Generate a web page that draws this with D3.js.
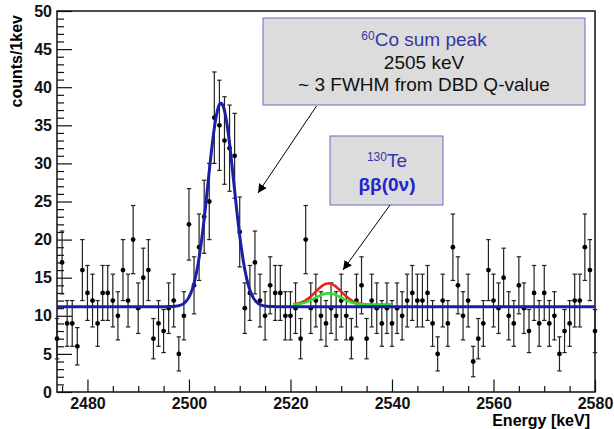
<!DOCTYPE html>
<html>
<head>
<meta charset="utf-8">
<script src="https://cdn.jsdelivr.net/npm/d3@7"></script>
<style>
  body { margin: 0; background: #fff; }
  text { font-family: "Liberation Sans", Arial, sans-serif; }
  .axis text { font-weight: bold; font-size: 16px; }
</style>
</head>
<body>
<div id="chart"></div>
<script>
// spectrum around the 60Co sum peak, 1 keV bins starting at 2474 keV
var binStart = 2474;
var counts = [
  7, 17, 9, 9, 6, 16, 13, 12, 9, 13,
  13, 12, 10, 16, 12, 20, 11, 15, 16, 7,
  9, 8, 11, 12, 5, 10, 22, 14, 19, 23,
  25, 36, 35, 33, 32, 31, 21, 11, 13, 17,
  12, 10, 14, 13, 13, 10, 10, 11, 7, 20,
  11, 12, 10, 9, 11, 10, 12, 10, 7, 12,
  14, 7, 12, 11, 9, 11, 9, 11, 10, 12,
  13, 12, 12, 13, 9, 5, 12, 9, 19, 14,
  10, 12, 4, 7, 9, 16, 12, 11, 15, 10,
  9, 14, 11, 8, 13, 9, 13, 9, 10, 5,
  8, 9, 12, 12, 19, 16, 8
];

// fit: flat background + gaussian peak
var fitBackground = 11.2;
var fitPeak = {mean: 2506.3, amp: 26.7, sigma: 2.55};
// 0nbb hypotheses at Q-value
var dbdRange = [2520.5, 2540];
var dbdCurves = [
  {name: "red", amp: 2.8, color: "#e8231e"},
  {name: "green", amp: 1.5, color: "#2ee02a"}
];
var dbdMean = 2527.5;

var xTicks = [2480, 2500, 2520, 2540, 2560, 2580];
var yTicks = [0, 5, 10, 15, 20, 25, 30, 35, 40, 45, 50];

var width = 614, height = 429;

var svg = d3.select("#chart").append("svg")
  .attr("width", width).attr("height", height);

var x = d3.scaleLinear().domain([2474, 2580]).range([57, 595]);
var y = d3.scaleLinear().domain([0, 50]).range([392, 11]);

// axes
svg.append("g").attr("class", "axis").attr("transform", "translate(0,392)")
  .call(d3.axisBottom(x).tickValues(xTicks).tickFormat(d3.format("d"))
    .tickSize(-12.5).tickSizeOuter(0).tickPadding(6));
svg.append("g").attr("transform", "translate(0,392)")
  .call(d3.axisBottom(x).tickValues(d3.range(2475, 2580, 5).filter(function(d){ return d % 20 != 0; }))
    .tickFormat("").tickSize(-6).tickSizeOuter(0));
svg.append("g").attr("class", "axis").attr("transform", "translate(57,0)")
  .call(d3.axisLeft(y).tickValues(yTicks).tickSize(-15).tickSizeOuter(0).tickPadding(5));
svg.append("g").attr("transform", "translate(57,0)")
  .call(d3.axisLeft(y).tickValues(d3.range(0, 50, 1).filter(function(d){ return d % 5 != 0; }))
    .tickFormat("").tickSize(-7).tickSizeOuter(0));

svg.selectAll(".domain").remove();
svg.selectAll(".tick line").attr("stroke", "#111").attr("stroke-width", 1.2);
svg.selectAll(".axis")
  .attr("font-family", "'Liberation Sans', Arial, sans-serif")
  .attr("font-size", 16).attr("font-weight", "bold");
svg.selectAll(".tick text").attr("fill", "#111");

// frame
svg.append("rect")
  .attr("x", 57).attr("y", 11)
  .attr("width", 595 - 57).attr("height", 392 - 11)
  .attr("fill", "none").attr("stroke", "#111").attr("stroke-width", 1.5);

// axis titles
svg.append("text")
  .attr("transform", "translate(22,15) rotate(-90)")
  .attr("text-anchor", "end")
  .style("font-size", "16px").style("font-weight", "bold")
  .text("counts/1kev");
svg.append("text")
  .attr("x", 590).attr("y", 426)
  .attr("text-anchor", "end")
  .style("font-size", "16px").style("font-weight", "bold")
  .text("Energy [keV]");

// data points with sqrt(n) errors
var pts = counts.map(function(c, i) { return {e: binStart + i, c: c}; });
var g = svg.append("g");
g.selectAll("line.err").data(pts).enter().append("line")
  .attr("class", "err")
  .attr("x1", function(d) { return x(d.e); })
  .attr("x2", function(d) { return x(d.e); })
  .attr("y1", function(d) { return y(d.c - Math.sqrt(d.c)); })
  .attr("y2", function(d) { return y(d.c + Math.sqrt(d.c)); })
  .attr("stroke", "#222").attr("stroke-width", 1.2);
[1, -1].forEach(function(s) {
  g.selectAll("line.cap" + s).data(pts).enter().append("line")
    .attr("x1", function(d) { return x(d.e) - 2.2; })
    .attr("x2", function(d) { return x(d.e) + 2.2; })
    .attr("y1", function(d) { return y(d.c + s * Math.sqrt(d.c)); })
    .attr("y2", function(d) { return y(d.c + s * Math.sqrt(d.c)); })
    .attr("stroke", "#222").attr("stroke-width", 1.2);
});
g.selectAll("circle").data(pts).enter().append("circle")
  .attr("cx", function(d) { return x(d.e); })
  .attr("cy", function(d) { return y(d.c); })
  .attr("r", 2.4).attr("fill", "#000");

// curves
function gauss(e, mean, amp, sigma) {
  return amp * Math.exp(-(e - mean) * (e - mean) / (2 * sigma * sigma));
}
var line = d3.line().x(function(d) { return x(d[0]); }).y(function(d) { return y(d[1]); });

dbdCurves.forEach(function(cv) {
  var samples = d3.range(dbdRange[0], dbdRange[1] + 0.01, 0.1).map(function(e) {
    return [e, fitBackground + 0.25 + gauss(e, dbdMean, cv.amp, fitPeak.sigma)];
  });
  svg.append("path").datum(samples).attr("d", line)
    .attr("fill", "none").attr("stroke", cv.color).attr("stroke-width", 2.6);
});

var fitSamples = d3.range(2474, 2580.01, 0.1).map(function(e) {
  return [e, fitBackground + gauss(e, fitPeak.mean, fitPeak.amp, fitPeak.sigma)];
});
svg.append("path").datum(fitSamples).attr("d", line)
  .attr("fill", "none").attr("stroke", "#1a1fa8").attr("stroke-width", 3);

// annotations
var defs = svg.append("defs");
defs.append("marker").attr("id", "arr")
  .attr("viewBox", "0 0 10 10").attr("refX", 10).attr("refY", 5)
  .attr("markerWidth", 9).attr("markerHeight", 9)
  .attr("markerUnits", "userSpaceOnUse")
  .attr("orient", "auto")
  .append("path").attr("d", "M0,0 L10,5 L0,10 z").attr("fill", "#000");

svg.append("rect").attr("x", 263).attr("y", 18).attr("width", 322).attr("height", 87)
  .attr("fill", "#dcdcdc").attr("stroke", "#6b6bc8").attr("stroke-width", 1);
var t1 = svg.append("text").attr("x", 424).attr("y", 46).attr("text-anchor", "middle")
  .style("font-size", "19px").attr("fill", "#3535a8");
t1.append("tspan").attr("dy", "-6").style("font-size", "12px").text("60");
t1.append("tspan").attr("dy", "6").text("Co sum peak");
svg.append("text").attr("x", 424).attr("y", 68.5).attr("text-anchor", "middle")
  .style("font-size", "19px").attr("fill", "#111").text("2505 keV");
svg.append("text").attr("x", 424).attr("y", 91).attr("text-anchor", "middle")
  .style("font-size", "19px").attr("fill", "#111").text("~ 3 FWHM from DBD Q-value");

svg.append("line").attr("x1", 316.5).attr("y1", 106).attr("x2", 258).attr("y2", 193)
  .attr("stroke", "#000").attr("stroke-width", 1).attr("marker-end", "url(#arr)");

svg.append("rect").attr("x", 330).attr("y", 136).attr("width", 113).attr("height", 69)
  .attr("fill", "#dcdcdc").attr("stroke", "#6b6bc8").attr("stroke-width", 1);
var t2 = svg.append("text").attr("x", 387).attr("y", 167).attr("text-anchor", "middle")
  .style("font-size", "19px").attr("fill", "#3535a8");
t2.append("tspan").attr("dy", "-6").style("font-size", "12px").text("130");
t2.append("tspan").attr("dy", "6").text("Te");
svg.append("text").attr("x", 387).attr("y", 191).attr("text-anchor", "middle")
  .style("font-size", "19px").style("font-weight", "bold").attr("fill", "#2222d0")
  .text("ββ(0ν)");

svg.append("line").attr("x1", 390).attr("y1", 205).attr("x2", 343).attr("y2", 270)
  .attr("stroke", "#000").attr("stroke-width", 1).attr("marker-end", "url(#arr)");
</script>
</body>
</html>
